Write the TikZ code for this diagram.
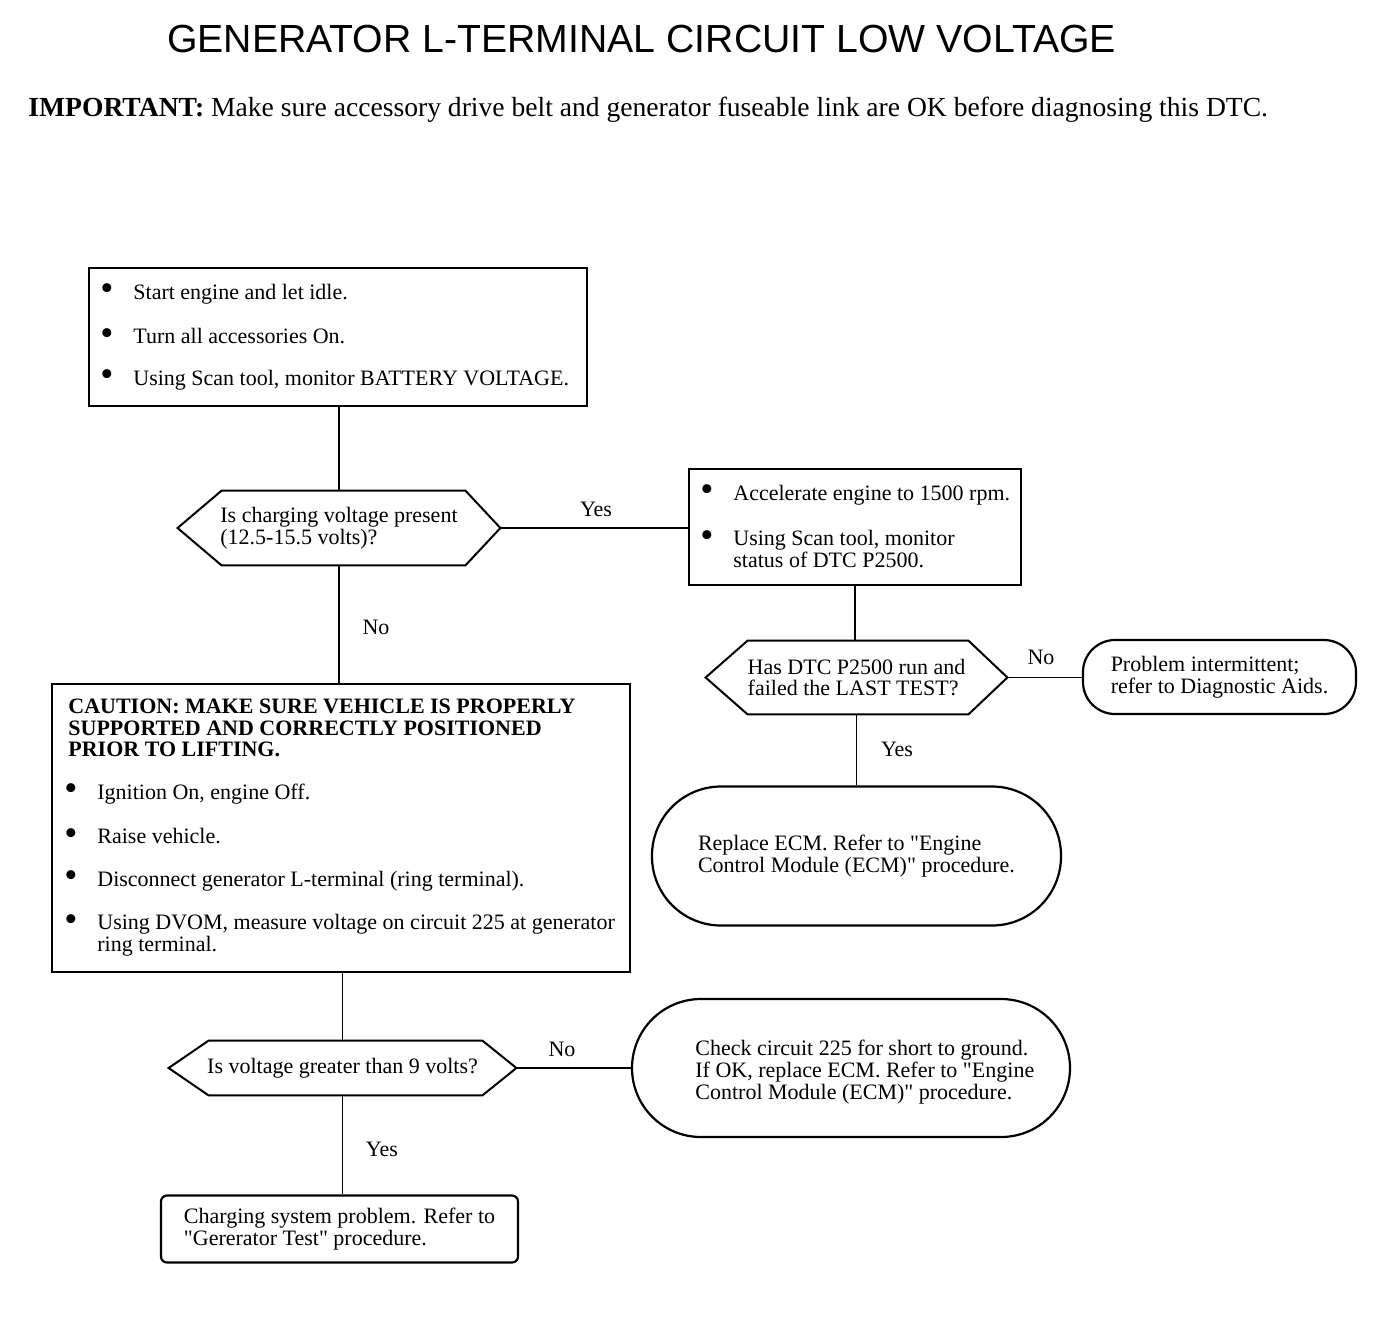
\documentclass[tikz,border=0pt]{standalone}
\usepackage{fontspec}
\setmainfont{Liberation Serif}[Ligatures=TeXOff]
\newfontfamily\ttlfont{Liberation Sans}
\newcommand{\myfont}{\fontsize{11}{10.8}\selectfont}
\newcommand{\bul}{\llap{\raisebox{-0.15ex}{\scalebox{1.7}{\textbullet}}\hspace{10pt}}}
\newcommand{\dq}{\symbol{"22}}
\begin{document}
\begin{tikzpicture}[x=0.5pt,y=-0.5pt,
  frame/.style={draw, line width=1.1pt, inner sep=0pt},
  hexnode/.style={inner sep=0pt, align=left, font=\myfont},
  txt/.style={inner sep=0pt, align=left, anchor=west, font=\myfont},
  lbl/.style={inner sep=0pt, font=\myfont},
  conn/.style={line width=0.6pt},
  hexline/.style={line width=1pt}]
\useasboundingbox (0,0) rectangle (1376,1340);

% title
\node[anchor=base, inner sep=0pt, font=\ttlfont\fontsize{19.6}{22}\selectfont] (title) at (641.5,52) {GENERATOR L-TERMINAL CIRCUIT LOW VOLTAGE};
\node[anchor=base west, inner sep=0pt, font=\fontsize{13.8}{16}\selectfont] (imp) at (28,116) {\textbf{IMPORTANT:} Make sure accessory drive belt and generator fuseable link are OK before diagnosing this DTC.};

% box 1
\node[frame, minimum width=249pt, minimum height=69pt] (b1) at (338,337) {};
\node[txt] (b1a) at (133,294) {\bul Start engine and let idle.};
\node[txt] (b1b) at (133,337) {\bul Turn all accessories On.};
\node[txt] (b1c) at (133,380) {\bul Using Scan tool, monitor BATTERY VOLTAGE.};

% decision 1
\node[hexnode, minimum width=161pt, minimum height=37pt] (d1) at (339,528) {Is charging voltage present\\(12.5-15.5 volts)?};
\draw[hexline] (d1.west) -- ([xshift=22pt]d1.north west) -- ([xshift=-17.5pt]d1.north east) -- (d1.east) -- ([xshift=-17.5pt]d1.south east) -- ([xshift=22pt]d1.south west) -- cycle;

% box 2
\node[frame, minimum width=166pt, minimum height=58pt] (b2) at (855,527) {};
\node[txt] (b2a) at (733,495) {\bul Accelerate engine to 1500 rpm.};
\node[txt] (b2b) at (733,549) {\bul Using Scan tool, monitor\\status of DTC P2500.};

% decision 2
\node[hexnode, minimum width=150.5pt, minimum height=36.5pt] (d2) at (856.5,677.5) {Has DTC P2500 run and\\failed the LAST TEST?};
\draw[hexline] (d2.west) -- ([xshift=21pt]d2.north west) -- ([xshift=-19.5pt]d2.north east) -- (d2.east) -- ([xshift=-19.5pt]d2.south east) -- ([xshift=21pt]d2.south west) -- cycle;

% problem intermittent
\node[frame, rounded corners=16pt, minimum width=136.5pt, minimum height=37pt, align=left, font=\myfont] (p1) at (1219.5,677) {Problem intermittent;\\refer to Diagnostic Aids.};

% replace ECM stadium
\node[frame, rounded corners=34.5pt, minimum width=204.5pt, minimum height=69.5pt, align=left, font=\myfont] (s1) at (856.5,856) {Replace ECM. Refer to \dq Engine\\Control Module (ECM)\dq{} procedure.};

% caution box
\node[frame, minimum width=289pt, minimum height=144pt] (cb) at (341,828) {};
\node[txt, font=\myfont\bfseries] (cbt) at (68,728) {CAUTION: MAKE SURE VEHICLE IS PROPERLY\\SUPPORTED AND CORRECTLY POSITIONED\\PRIOR TO LIFTING.};
\node[txt] (cb1) at (97,794) {\bul Ignition On, engine Off.};
\node[txt] (cb2) at (97,837) {\bul Raise vehicle.};
\node[txt] (cb3) at (97,881) {\bul Disconnect generator L-terminal (ring terminal).};
\node[txt] (cb4) at (97,935) {\bul Using DVOM, measure voltage on circuit 225 at generator\\ring terminal.};

% decision 3
\node[hexnode, minimum width=173.5pt, minimum height=27pt] (d3) at (342.5,1068) {Is voltage greater than 9 volts?};
\draw[hexline] (d3.west) -- ([xshift=20pt]d3.north west) -- ([xshift=-17pt]d3.north east) -- (d3.east) -- ([xshift=-17pt]d3.south east) -- ([xshift=20pt]d3.south west) -- cycle;

% check circuit stadium
\node[frame, rounded corners=34.5pt, minimum width=219pt, minimum height=69pt] (s2) at (851,1068) {};
\node[txt] (s2t) at (695,1072) {Check circuit 225 for short to ground.\\If OK, replace ECM. Refer to \dq Engine\\Control Module (ECM)\dq{} procedure.};

% final box
\node[frame, rounded corners=3pt, minimum width=178.5pt, minimum height=33.5pt, align=left, font=\myfont] (f) at (339.5,1229) {Charging system problem. Refer to\\\dq Gererator Test\dq{} procedure.};

% connectors
\draw[conn] (d1.north |- b1.south) -- (d1.north);
\draw[conn] (d1.east) -- (d1.east -| b2.west);
\draw[conn] (d1.south) -- (d1.south |- cb.north);
\draw[conn] (b2.south) -- (b2.south |- d2.north);
\draw[conn] (d2.east) -- (d2.east -| p1.west);
\draw[conn] (d2.south) -- (d2.south |- s1.north);
\draw[conn] (d3.north |- cb.south) -- (d3.north);
\draw[conn] (d3.east) -- (d3.east -| s2.west);
\draw[conn] (d3.south) -- (d3.south |- f.north);

% labels
\node[lbl] (l1) at (596,509) {Yes};
\node[lbl] (l2) at (376,627) {No};
\node[lbl] (l3) at (1041,657) {No};
\node[lbl] (l4) at (897,749) {Yes};
\node[lbl] (l5) at (562,1049) {No};
\node[lbl] (l6) at (382,1149) {Yes};
\end{tikzpicture}
\end{document}
